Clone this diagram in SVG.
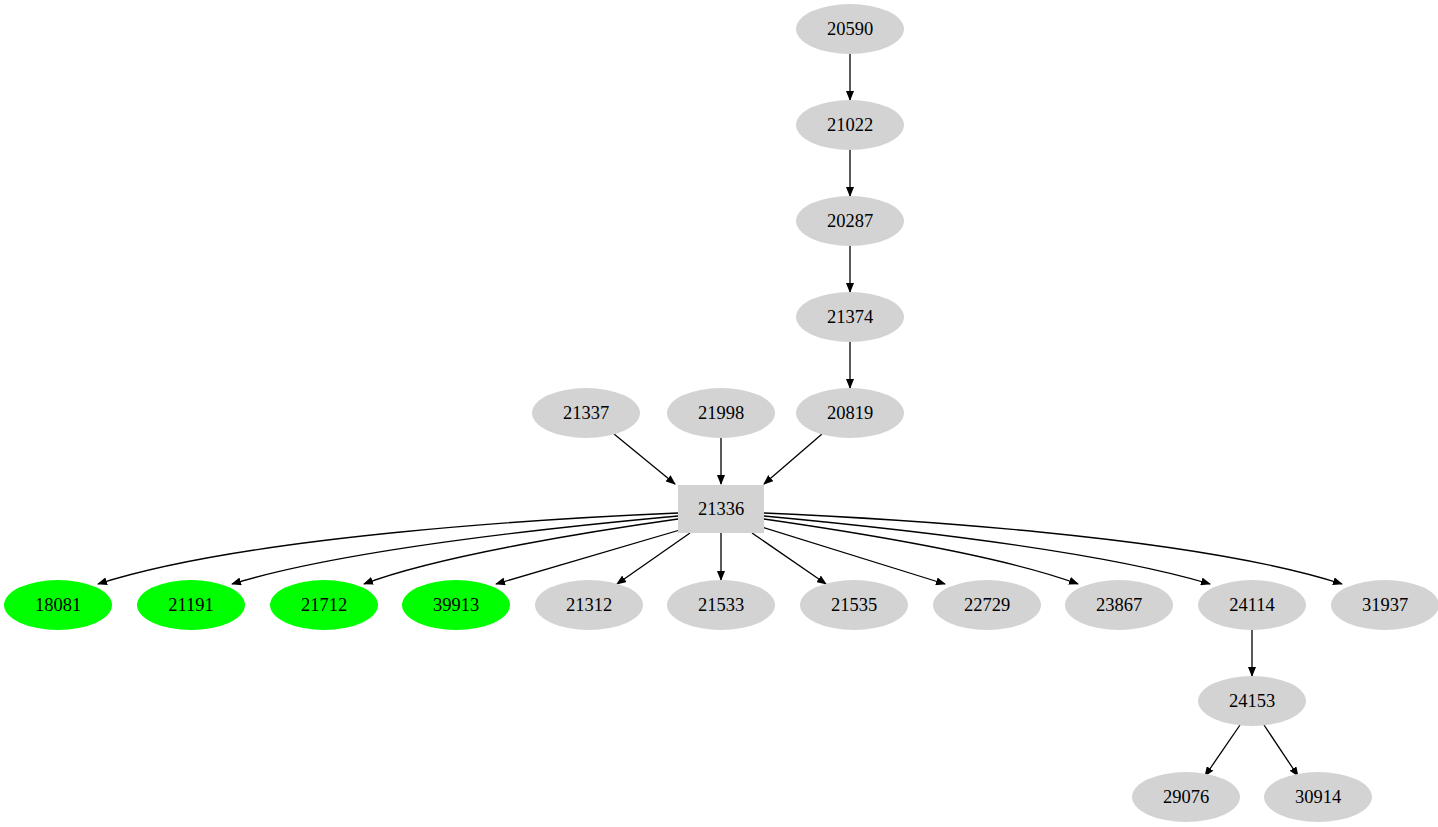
<svg xmlns="http://www.w3.org/2000/svg" width="1438" height="827" viewBox="0 0 1438 827">
<defs>
<style>
.g{fill:#d3d3d3}.v{fill:#00ff00}
text{font-family:"Liberation Serif",serif;font-size:18.5px;text-anchor:middle;dominant-baseline:central;fill:#000}
.e{stroke:#000;stroke-width:1.3;fill:none;marker-end:url(#a)}
</style>
<marker id="a" markerWidth="10" markerHeight="8" refX="9" refY="4" orient="auto" markerUnits="userSpaceOnUse"><path d="M0,0L10,4L0,8z" fill="#000"/></marker>
</defs>
<rect width="1438" height="827" fill="#fff"/>
<g id="edges">
<path class="e" d="M850,54V100"/>
<path class="e" d="M850,150V196"/>
<path class="e" d="M850,246V292"/>
<path class="e" d="M850,342V388"/>
<path class="e" d="M614,434L675,484"/>
<path class="e" d="M721,438V484"/>
<path class="e" d="M822,434L764,484"/>
<path class="e" d="M678,513C560,518 250,535 98,584"/>
<path class="e" d="M678,516C580,525 350,548 232,584"/>
<path class="e" d="M678,519C600,530 440,555 364,584"/>
<path class="e" d="M690,527L496,584"/>
<path class="e" d="M690,533L617,584"/>
<path class="e" d="M721,533V580"/>
<path class="e" d="M752,533L826,584"/>
<path class="e" d="M762,527L945,584"/>
<path class="e" d="M764,519C840,530 1000,555 1078,584"/>
<path class="e" d="M764,516C860,525 1090,548 1210,584"/>
<path class="e" d="M764,513C880,518 1190,535 1342,584"/>
<path class="e" d="M1252,630V676"/>
<path class="e" d="M1240,725L1205,776"/>
<path class="e" d="M1264,725L1298,776"/>
</g>
<g id="n20590"><ellipse class="g" cx="850" cy="29" rx="54" ry="25"/><text x="850" y="29">20590</text></g>
<g id="n21022"><ellipse class="g" cx="850" cy="125" rx="54" ry="25"/><text x="850" y="125">21022</text></g>
<g id="n20287"><ellipse class="g" cx="850" cy="221" rx="54" ry="25"/><text x="850" y="221">20287</text></g>
<g id="n21374"><ellipse class="g" cx="850" cy="317" rx="54" ry="25"/><text x="850" y="317">21374</text></g>
<g id="n20819"><ellipse class="g" cx="850" cy="413" rx="54" ry="25"/><text x="850" y="413">20819</text></g>
<g id="n21337"><ellipse class="g" cx="586" cy="413" rx="54" ry="25"/><text x="586" y="413">21337</text></g>
<g id="n21998"><ellipse class="g" cx="721" cy="413" rx="54" ry="25"/><text x="721" y="413">21998</text></g>
<g id="n21336"><rect class="g" x="678" y="485" width="86" height="48"/><text x="721" y="509">21336</text></g>
<g id="n18081"><ellipse class="v" cx="58" cy="605" rx="54" ry="25"/><text x="58" y="605">18081</text></g>
<g id="n21191"><ellipse class="v" cx="191" cy="605" rx="54" ry="25"/><text x="191" y="605">21191</text></g>
<g id="n21712"><ellipse class="v" cx="324" cy="605" rx="54" ry="25"/><text x="324" y="605">21712</text></g>
<g id="n39913"><ellipse class="v" cx="456" cy="605" rx="54" ry="25"/><text x="456" y="605">39913</text></g>
<g id="n21312"><ellipse class="g" cx="589" cy="605" rx="54" ry="25"/><text x="589" y="605">21312</text></g>
<g id="n21533"><ellipse class="g" cx="721" cy="605" rx="54" ry="25"/><text x="721" y="605">21533</text></g>
<g id="n21535"><ellipse class="g" cx="854" cy="605" rx="54" ry="25"/><text x="854" y="605">21535</text></g>
<g id="n22729"><ellipse class="g" cx="987" cy="605" rx="54" ry="25"/><text x="987" y="605">22729</text></g>
<g id="n23867"><ellipse class="g" cx="1119" cy="605" rx="54" ry="25"/><text x="1119" y="605">23867</text></g>
<g id="n24114"><ellipse class="g" cx="1252" cy="605" rx="54" ry="25"/><text x="1252" y="605">24114</text></g>
<g id="n31937"><ellipse class="g" cx="1385" cy="605" rx="54" ry="25"/><text x="1385" y="605">31937</text></g>
<g id="n24153"><ellipse class="g" cx="1252" cy="701" rx="54" ry="25"/><text x="1252" y="701">24153</text></g>
<g id="n29076"><ellipse class="g" cx="1186" cy="797" rx="54" ry="25"/><text x="1186" y="797">29076</text></g>
<g id="n30914"><ellipse class="g" cx="1318" cy="797" rx="54" ry="25"/><text x="1318" y="797">30914</text></g>
</svg>
